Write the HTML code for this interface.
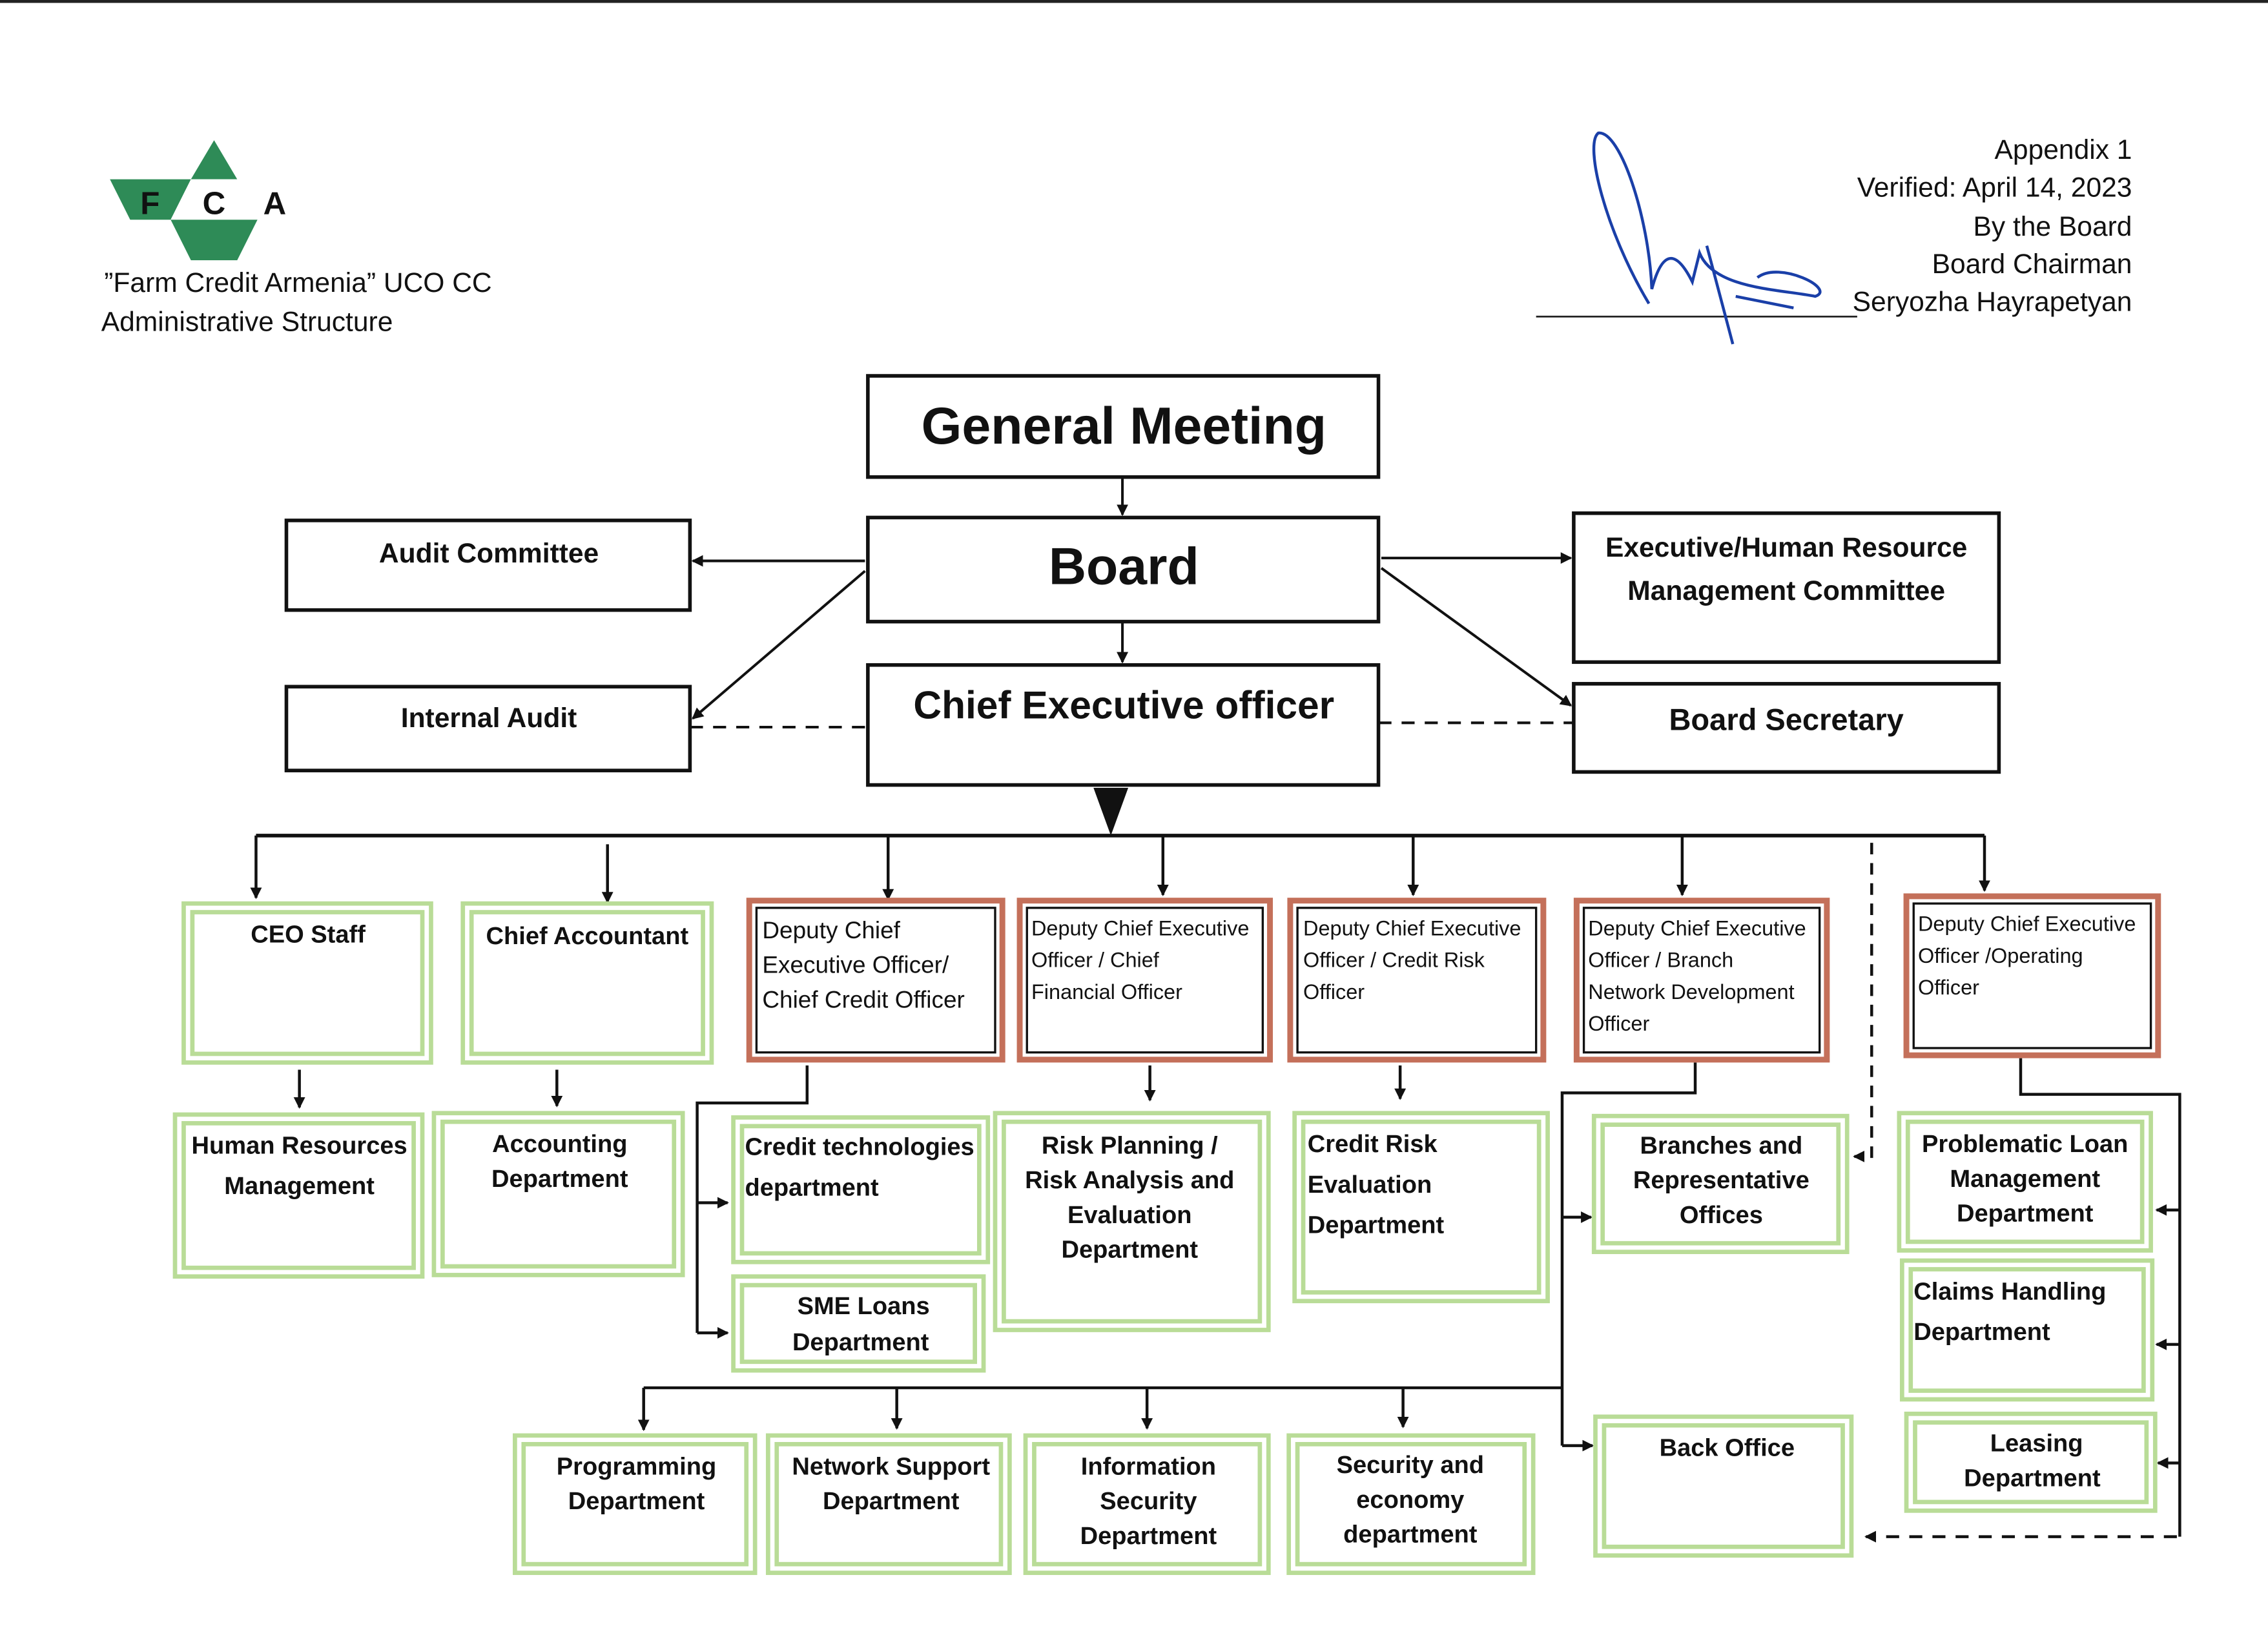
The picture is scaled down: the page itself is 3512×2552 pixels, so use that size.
<!DOCTYPE html>
<html><head><meta charset="utf-8"><style>
html,body{margin:0;padding:0;background:#fff;}
svg{display:block;}
text{font-family:"Liberation Sans","DejaVu Sans",sans-serif;fill:#111;}
</style></head><body>
<svg width="3512" height="2552" viewBox="0 0 1568 1140" preserveAspectRatio="none" xmlns="http://www.w3.org/2000/svg">
<defs>
<marker id="ah" markerWidth="8" markerHeight="8" refX="7" refY="4" orient="auto" markerUnits="userSpaceOnUse"><path d="M0,0 L8,4 L0,8 z" fill="#111"/></marker>
</defs>
<rect width="1568" height="1140" fill="#fff"/>
<line x1="0" y1="1" x2="1568" y2="1" stroke="#222" stroke-width="2"/>
<!-- logo -->
<polygon points="148,97 132,124 164,124" fill="#2e8b57"/>
<polygon points="76,124 132,124 118,152 90,152" fill="#2e8b57"/>
<polygon points="132,124 164,124 178,152 118,152" fill="#fff"/>
<polygon points="118,152 178,152 164,180 132,180" fill="#2e8b57"/>
<text x="97" y="148" font-size="22" font-weight="bold" fill="#fff">F</text>
<text x="140" y="148" font-size="22" font-weight="bold" fill="#2e8b57">C</text>
<text x="182" y="148" font-size="22" font-weight="bold" fill="#2e8b57">A</text>
<text x="72" y="202" font-size="19">”Farm Credit Armenia” UCO CC</text>
<text x="70" y="229" font-size="19">Administrative Structure</text>
<!-- header right -->
<g font-size="19" text-anchor="end">
<text x="1474" y="110">Appendix 1</text>
<text x="1474" y="136">Verified: April 14, 2023</text>
<text x="1474" y="163">By the Board</text>
<text x="1474" y="189">Board Chairman</text>
<text x="1474" y="215">Seryozha Hayrapetyan</text>
</g>
<line x1="1062" y1="219" x2="1284" y2="219" stroke="#222" stroke-width="1.2"/>
<path d="M1140,210 C1110,160 1095,100 1105,92 C1120,90 1140,150 1142,200 C1150,170 1160,175 1170,195 L1175,175 C1185,200 1230,200 1255,205 C1270,200 1230,180 1215,192 M1180,170 L1198,238 M1200,205 L1240,213" fill="none" stroke="#1a3fa8" stroke-width="2"/>
<!-- top boxes -->
<g fill="none" stroke="#111" stroke-width="2.5">
<rect x="600" y="260" width="353" height="70"/>
<rect x="600" y="358" width="353" height="72"/>
<rect x="600" y="460" width="353" height="83"/>
<rect x="198" y="360" width="279" height="62"/>
<rect x="198" y="475" width="279" height="58"/>
<rect x="1088" y="355" width="294" height="103"/>
<rect x="1088" y="473" width="294" height="61"/>
</g>
<g font-weight="bold" text-anchor="middle">
<text x="777" y="307" font-size="36">General Meeting</text>
<text x="777" y="404" font-size="36">Board</text>
<text x="777" y="497" font-size="27">Chief Executive officer</text>
<text x="338" y="389" font-size="19">Audit Committee</text>
<text x="338" y="503" font-size="19">Internal Audit</text>
<text x="1235" y="385" font-size="19">Executive/Human Resource</text>
<text x="1235" y="415" font-size="19">Management Committee</text>
<text x="1235" y="505" font-size="21">Board Secretary</text>
</g>
<g stroke="#111" stroke-width="1.8" fill="none">
<line x1="776" y1="330" x2="776" y2="356" marker-end="url(#ah)"/>
<line x1="776" y1="430" x2="776" y2="458" marker-end="url(#ah)"/>
<line x1="598" y1="388" x2="479" y2="388" marker-end="url(#ah)"/>
<line x1="598" y1="395" x2="479" y2="497" marker-end="url(#ah)"/>
<line x1="955" y1="386" x2="1086" y2="386" marker-end="url(#ah)"/>
<line x1="955" y1="393" x2="1086" y2="488" marker-end="url(#ah)"/>
<line x1="477" y1="503" x2="600" y2="503" stroke-dasharray="9,7"/>
<line x1="953" y1="500" x2="1088" y2="500" stroke-dasharray="9,7"/>
</g>
<polygon points="756,545 780,545 768,578" fill="#111"/>
<g stroke="#111" stroke-width="2.5" fill="none">
<line x1="177" y1="578" x2="1372" y2="578"/>
</g>
<g stroke="#111" stroke-width="2" fill="none">
<line x1="177" y1="578" x2="177" y2="621" marker-end="url(#ah)"/>
<line x1="420" y1="584" x2="420" y2="624" marker-end="url(#ah)"/>
<line x1="614" y1="578" x2="614" y2="622" marker-end="url(#ah)"/>
<line x1="804" y1="578" x2="804" y2="619" marker-end="url(#ah)"/>
<line x1="977" y1="578" x2="977" y2="619" marker-end="url(#ah)"/>
<line x1="1163" y1="578" x2="1163" y2="619" marker-end="url(#ah)"/>
<line x1="1372" y1="578" x2="1372" y2="616" marker-end="url(#ah)"/>
<polyline points="1294,583 1294,800 1282,800" stroke-dasharray="8,6" marker-end="url(#ah)"/>
<line x1="207" y1="740" x2="207" y2="766" marker-end="url(#ah)"/>
<line x1="385" y1="740" x2="385" y2="765" marker-end="url(#ah)"/>
<line x1="795" y1="737" x2="795" y2="761" marker-end="url(#ah)"/>
<line x1="968" y1="737" x2="968" y2="760" marker-end="url(#ah)"/>
<polyline points="558,737 558,763 482,763 482,922"/>
<line x1="482" y1="832" x2="503" y2="832" marker-end="url(#ah)"/>
<line x1="482" y1="922" x2="503" y2="922" marker-end="url(#ah)"/>
<polyline points="1172,735 1172,756 1080,756 1080,1000"/>
<line x1="1080" y1="842" x2="1100" y2="842" marker-end="url(#ah)"/>
<line x1="1080" y1="1000" x2="1101" y2="1000" marker-end="url(#ah)"/>
<line x1="445" y1="960" x2="1080" y2="960"/>
<line x1="445" y1="960" x2="445" y2="989" marker-end="url(#ah)"/>
<line x1="620" y1="960" x2="620" y2="988" marker-end="url(#ah)"/>
<line x1="793" y1="960" x2="793" y2="988" marker-end="url(#ah)"/>
<line x1="970" y1="960" x2="970" y2="987" marker-end="url(#ah)"/>
<polyline points="1397,732 1397,757 1507,757 1507,1063"/>
<line x1="1507" y1="837" x2="1491" y2="837" marker-end="url(#ah)"/>
<line x1="1507" y1="930" x2="1491" y2="930" marker-end="url(#ah)"/>
<line x1="1507" y1="1012" x2="1492" y2="1012" marker-end="url(#ah)"/>
<line x1="1505" y1="1063" x2="1290" y2="1063" stroke-dasharray="9,7" marker-end="url(#ah)"/>
</g>
<!-- green boxes -->
<g fill="none" stroke="#b9dc97" stroke-width="3">
<rect x="127" y="625" width="171" height="110"/><rect x="133" y="631" width="159" height="98"/>
<rect x="320" y="625" width="172" height="110"/><rect x="326" y="631" width="160" height="98"/>
<rect x="121" y="771" width="171" height="112"/><rect x="127" y="777" width="159" height="100"/>
<rect x="300" y="770" width="172" height="112"/><rect x="306" y="776" width="160" height="100"/>
<rect x="507" y="773" width="176" height="100"/><rect x="513" y="779" width="164" height="88"/>
<rect x="507" y="883" width="173" height="65"/><rect x="513" y="889" width="161" height="53"/>
<rect x="688" y="770" width="189" height="150"/><rect x="694" y="776" width="177" height="138"/>
<rect x="895" y="770" width="175" height="130"/><rect x="901" y="776" width="163" height="118"/>
<rect x="1102" y="772" width="175" height="94"/><rect x="1108" y="778" width="163" height="82"/>
<rect x="1313" y="770" width="174" height="95"/><rect x="1319" y="776" width="162" height="83"/>
<rect x="1315" y="872" width="173" height="96"/><rect x="1321" y="878" width="161" height="84"/>
<rect x="1318" y="978" width="172" height="67"/><rect x="1324" y="984" width="160" height="55"/>
<rect x="1103" y="980" width="177" height="96"/><rect x="1109" y="986" width="165" height="84"/>
<rect x="356" y="993" width="166" height="95"/><rect x="362" y="999" width="154" height="83"/>
<rect x="531" y="993" width="167" height="95"/><rect x="537" y="999" width="155" height="83"/>
<rect x="709" y="993" width="168" height="95"/><rect x="715" y="999" width="156" height="83"/>
<rect x="891" y="993" width="169" height="95"/><rect x="897" y="999" width="157" height="83"/>
</g>
<!-- red boxes -->
<g fill="none">
<g stroke="#c4705a" stroke-width="4">
<rect x="518" y="623" width="175" height="110"/>
<rect x="705" y="623" width="173" height="110"/>
<rect x="892" y="623" width="175" height="110"/>
<rect x="1090" y="623" width="173" height="110"/>
<rect x="1318" y="620" width="174" height="110"/>
</g>
<g stroke="#111" stroke-width="1.5">
<rect x="523" y="628" width="165" height="100"/>
<rect x="710" y="628" width="163" height="100"/>
<rect x="897" y="628" width="165" height="100"/>
<rect x="1095" y="628" width="163" height="100"/>
<rect x="1323" y="625" width="164" height="100"/>
</g>
</g>
<g font-size="17" font-weight="bold">
<text x="213" y="652" text-anchor="middle">CEO Staff</text>
<text x="406" y="653" text-anchor="middle">Chief Accountant</text>
<g font-weight="normal" font-size="16.5"><text x="527" y="649">Deputy Chief</text><text x="527" y="673">Executive Officer/</text><text x="527" y="697">Chief Credit Officer</text></g>
<g font-weight="normal" font-size="14.5">
<text x="713" y="647">Deputy Chief Executive</text><text x="713" y="669">Officer / Chief</text><text x="713" y="691">Financial Officer</text>
<text x="901" y="647">Deputy Chief Executive</text><text x="901" y="669">Officer / Credit Risk</text><text x="901" y="691">Officer</text>
<text x="1098" y="647">Deputy Chief Executive</text><text x="1098" y="669">Officer / Branch</text><text x="1098" y="691">Network Development</text><text x="1098" y="713">Officer</text>
<text x="1326" y="644">Deputy Chief Executive</text><text x="1326" y="666">Officer /Operating</text><text x="1326" y="688">Officer</text>
</g>
<g text-anchor="middle">
<text x="207" y="798">Human Resources</text><text x="207" y="826">Management</text>
<text x="387" y="797">Accounting</text><text x="387" y="821">Department</text>
<text x="597" y="909">SME Loans</text><text x="595" y="934">Department</text>
<text x="781" y="798">Risk Planning /</text><text x="781" y="822">Risk Analysis and</text><text x="781" y="846">Evaluation</text><text x="781" y="870">Department</text>
<text x="1190" y="798">Branches and</text><text x="1190" y="822">Representative</text><text x="1190" y="846">Offices</text>
<text x="1400" y="797">Problematic Loan</text><text x="1400" y="821">Management</text><text x="1400" y="845">Department</text>
<text x="1408" y="1004">Leasing</text><text x="1405" y="1028">Department</text>
<text x="1194" y="1007">Back Office</text>
<text x="440" y="1020">Programming</text><text x="440" y="1044">Department</text>
<text x="616" y="1020">Network Support</text><text x="616" y="1044">Department</text>
<text x="794" y="1020">Information</text><text x="794" y="1044">Security</text><text x="794" y="1068">Department</text>
<text x="975" y="1019">Security and</text><text x="975" y="1043">economy</text><text x="975" y="1067">department</text>
</g>
<text x="515" y="799">Credit technologies</text><text x="515" y="827">department</text>
<text x="904" y="797">Credit Risk</text><text x="904" y="825">Evaluation</text><text x="904" y="853">Department</text>
<text x="1323" y="899">Claims Handling</text><text x="1323" y="927">Department</text>
</g>
</svg>
</body></html>
